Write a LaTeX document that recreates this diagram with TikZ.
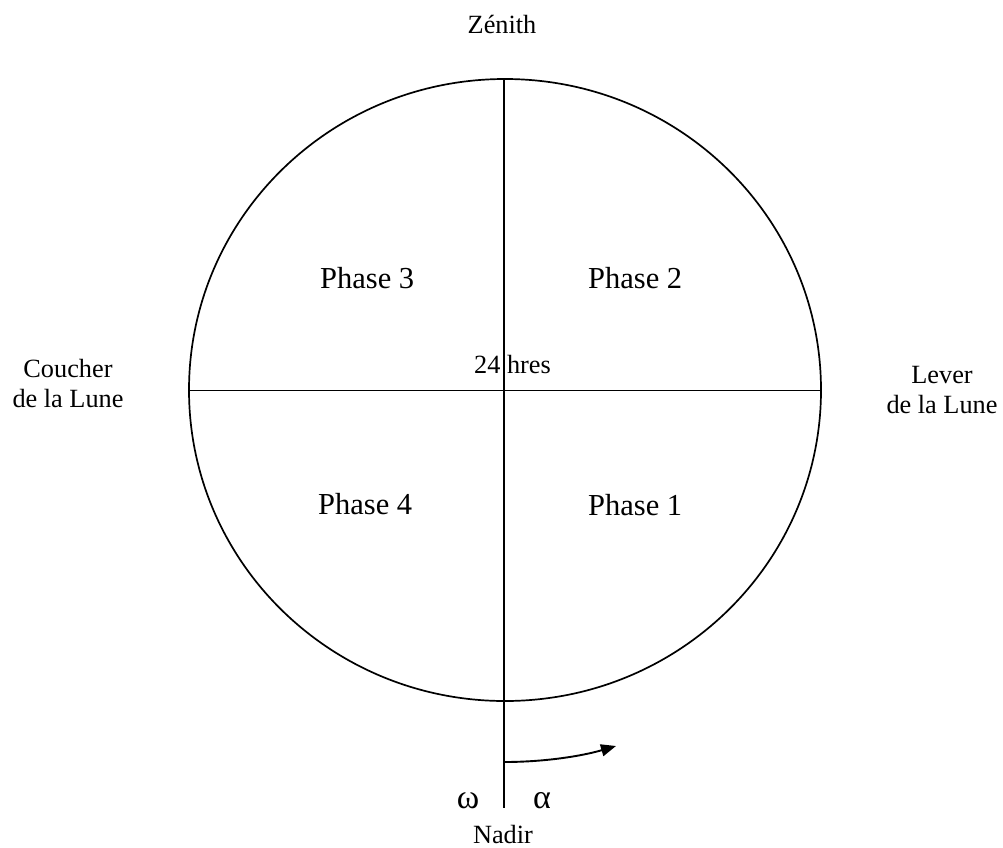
\documentclass[tikz,border=0pt]{standalone}
\usepackage{fontspec}
\setmainfont{Liberation Serif}
\usetikzlibrary{arrows.meta}
\tikzset{
  lbl/.style={inner sep=0pt, font=\fontsize{26.3}{29.5}\selectfont},
  phase/.style={inner sep=0pt, anchor=base west, font=\fontsize{30.5}{34}\selectfont},
  greek/.style={inner sep=0pt, anchor=base, font=\fontsize{34}{36}\selectfont},
  ln/.style={line width=1.7pt},
  arr/.style={line width=1.9pt, -{Triangle[length=15pt,width=12pt]}}
}
\begin{document}
\begin{tikzpicture}[x=1pt,y=-1pt]
\useasboundingbox (0,0) rectangle (1003,847);
% circle
\draw[ln] (505,390) ellipse [x radius=316, y radius=311];
\coordinate (top) at (504,79);
\coordinate (bot) at (504,808);
\coordinate (left) at (189,390.5);
\coordinate (right) at (821,390.5);
\draw[ln] (top) -- (bot);
\draw[ln] (left) -- (right);
% arrow
\coordinate (as) at (504,762);
\coordinate (ae) at (616,746);
\draw[arr] (as) .. controls (545,762) and (582,756) .. (ae);
% labels
\node[lbl, anchor=base] (zenith) at (502,33) {Zénith};
\node[lbl, anchor=base, text depth=0pt] (nadir) at (503,843) {Nadir};
\node[lbl, anchor=base west] (hres) at (474,373) {24 hres};
\node[lbl, anchor=base, align=center] (coucher) at (68,407) {Coucher\\de la Lune};
\node[lbl, anchor=base, align=center] (lever) at (942,413) {Lever\\de la Lune};
\node[phase] (p3) at (320,288) {Phase 3};
\node[phase] (p2) at (588,288) {Phase 2};
\node[phase] (p4) at (318,514) {Phase 4};
\node[phase] (p1) at (588,515) {Phase 1};
\node[greek] (omega) at (468,808) {ω};
\node[greek] (alpha) at (542,808) {α};
\end{tikzpicture}
\end{document}
